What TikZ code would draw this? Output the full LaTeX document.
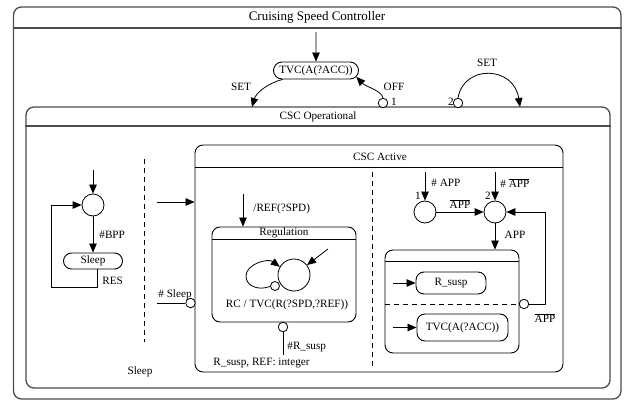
\documentclass[tikz,border=0pt]{standalone}
\usepackage{fontspec}
\setmainfont{Liberation Serif}
\usetikzlibrary{arrows.meta,shapes.misc}
\begin{document}
\begin{tikzpicture}[x=1pt,y=-1pt,
  font=\fontsize{11.2}{13}\selectfont,
  line width=0.8pt,
  arr/.style={-{Triangle[length=9pt,width=7.5pt]}},
  chartbox/.style={draw=black!70, line width=1.3pt, rounded corners=8pt, inner sep=0pt},
  chartline/.style={draw=black!70, line width=1.3pt},
  statebox/.style={draw, line width=0.9pt, rounded corners=8pt, inner sep=0pt},
  pill/.style={draw, line width=0.9pt, rounded rectangle, inner sep=0pt},
  cnd/.style={draw, circle, inner sep=0pt, minimum size=22pt},
  hook/.style={draw, circle, fill=white, inner sep=0pt, minimum size=9.5pt},
  lbl/.style={inner sep=0pt},
  dashsep/.style={dash pattern=on 5pt off 4pt}
]
\useasboundingbox (0,0) rectangle (625,401);

% ---- top level chart ----
\node[chartbox, minimum width=607.5pt, minimum height=392pt] (ctrl) at (317.25,203) {};
\node[lbl, font=\fontsize{13}{15}\selectfont] (ctrlT) at (317,17.5) {Cruising Speed Controller};
\draw[chartline] (ctrl.west |- 0,28) -- (ctrl.east |- 0,28);

\node[pill, minimum width=85pt, minimum height=17pt] (tvcA) at (316,70.5) {TVC(A(?ACC))};
\coordinate (tvcAin) at (316,32);
\draw[arr] (tvcAin) -- (tvcA);

% ---- CSC Operational ----
\node[chartbox, minimum width=584pt, minimum height=281pt] (csc) at (318,247.5) {};
\node[lbl] (cscT) at (318,116.5) {CSC Operational};
\draw[chartline] (csc.west |- 0,126) -- (csc.east |- 0,126);

% SET / OFF transitions
\coordinate (setL) at (252,107);
\draw[arr] (tvcA.195) .. controls (268,83) and (256,93) .. (setL);
\node[lbl] (setLT) at (241,87) {SET};

\node[hook] (h1) at (383,103) {};
\draw[arr] (h1.north) .. controls (381,90) and (366,87) .. (tvcA.-9);
\node[lbl] (offT) at (394,87) {OFF};
\node[lbl] (h1T) at (394,101.5) {1};

\node[hook] (h2) at (458,103) {};
\node[lbl] (h2T) at (451,101.5) {2};
\coordinate (setR) at (520,107);
\draw[arr] (h2.north) .. controls (464,64) and (514,66) .. (setR);
\node[lbl] (setRT) at (487,63) {SET};

% ---- left component ----
\node[cnd] (sl) at (93,205) {};
\coordinate (slin) at (93,170);
\draw[arr] (slin) -- (sl);
\node[pill, minimum width=59pt, minimum height=16pt] (sleep) at (93,261) {Sleep};
\draw[arr] (sl) -- (sleep);
\node[lbl, anchor=west] (bppT) at (99,235) {\#BPP};
\draw[arr] ([xshift=4pt]sleep.south) |- (51,287) |- (sl);
\node[lbl, anchor=west] (resT) at (102,281) {RES};
\node[lbl] (sleepT) at (140,372) {Sleep};

\draw[dashsep] (144,159) -- (144,342);

% ---- CSC Active ----
\node[statebox, minimum width=368pt, minimum height=227pt] (act) at (379,258.5) {};
\node[lbl] (actT) at (380,157) {CSC Active};
\draw[line width=0.9pt] (act.west |- 0,167) -- (act.east |- 0,167);

\coordinate (actin) at (157,202);
\draw[arr] (actin) -- (actin -| act.west);
\node[hook] (hs) at (190.5,303) {};
\coordinate (hsin) at (157,303);
\draw (hsin) -- (hs);
\node[lbl] (hsT) at (175,295) {\# Sleep};

% Regulation
\node[statebox, minimum width=144pt, minimum height=95pt] (reg) at (284,274.5) {};
\node[lbl] (regT) at (284,233) {Regulation};
\draw[line width=0.9pt] (reg.west |- 0,239) -- (reg.east |- 0,239);
\coordinate (regin) at (243,194);
\draw[arr] (regin) -- (regin |- reg.north);
\node[lbl, anchor=west] (refT) at (253,209) {/REF(?SPD)};

\node[draw, circle, inner sep=0pt, minimum size=32pt] (rc) at (294,275) {};
\node[hook, minimum size=9pt] (rh) at (275,286) {};
\draw[arr] (rh.185) .. controls (258,291) and (246,286) .. (246,276)
  .. controls (246,264) and (268,258) .. (rc.150);
\coordinate (rcin) at (328,249);
\draw[arr] (rcin) -- (rc);
\node[lbl] (rcT) at (287,305) {RC / TVC(R(?SPD,?REF))};

\node[hook] (rs) at (283,327) {};
\coordinate (rsout) at (283,355);
\draw (rs) -- (rsout);
\node[lbl, anchor=west] (rsT) at (287,347) {\#R\_susp};
\node[lbl] (declT) at (261.5,363) {R\_susp, REF: integer};

\draw[dashsep] (372,172) -- (372,366);

% APP handling
\node[cnd] (p1) at (425,212) {};
\node[cnd] (p2) at (495,212) {};
\coordinate (p1in) at (425,172);
\coordinate (p2in) at (495,172);
\draw[arr] (p1in) -- (p1);
\draw[arr] (p2in) -- (p2);
\node[lbl, anchor=west] (p1inT) at (431,183) {\# APP};
\node[lbl, anchor=west] (p2inT) at (500,183) {\# $\overline{\mbox{APP}}$};
\node[lbl] (p1T) at (418,196) {1};
\node[lbl] (p2T) at (488,196) {2};
\draw[arr] (p1) -- (p2);
\node[lbl] (p12T) at (460,204) {$\overline{\mbox{APP}}$};

\node[statebox, minimum width=134pt, minimum height=103pt] (sub) at (452,301.5) {};
\draw[line width=0.9pt] (sub.west |- 0,261) -- (sub.east |- 0,261);
\draw[arr] (p2) -- (p2 |- sub.north);
\node[lbl] (appT) at (515,235) {APP};

\node[hook] (hr) at (524,304) {};
\draw[dashsep] (sub.west |- hr) -- (hr.west);

\node[statebox, minimum width=70pt, minimum height=22pt] (rsusp) at (451,283) {R\_susp};
\node[statebox, minimum width=91pt, minimum height=27pt] (tvcB) at (462.5,327.5) {TVC(A(?ACC))};
\coordinate (rsin) at (393,283);
\coordinate (tvcBin) at (393,327.5);
\draw[arr] (rsin) -- (rsusp);
\draw[arr] (tvcBin) -- (tvcB);

\coordinate (fbk) at (545,212);
\draw[arr] (hr.east) -| (fbk) -- (p2.east);
\node[lbl] (fbkT) at (545,318) {$\overline{\mbox{APP}}$};

\end{tikzpicture}
\end{document}
